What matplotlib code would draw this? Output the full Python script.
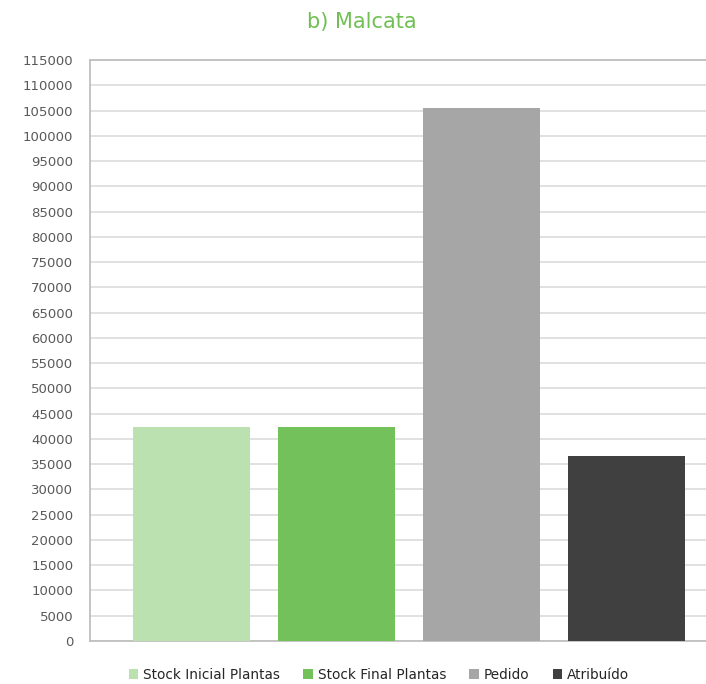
import numpy as np
import matplotlib
matplotlib.use("Agg")
import matplotlib.pyplot as plt
from matplotlib.patches import Patch

# Malcata nursery: stock vs. requested vs. allocated plants
series = ["Stock Inicial Plantas", "Stock Final Plantas", "Pedido", "Atribuído"]
values = [42300, 42300, 105500, 36600]
colors = ["#BCE1B0", "#72C15A", "#A6A6A6", "#404040"]

yticks = list(range(0, 115001, 5000))

plt.rcParams['font.family'] = ['DejaVu Sans']

fig = plt.figure(figsize=(7.06, 6.84), dpi=100)
ax = fig.add_axes([90 / 706, 43 / 684, 616 / 706, 581 / 684])

x = np.arange(len(series))
ax.bar(x, values, width=0.807, color=colors, zorder=3)

ax.set_xlim(-0.7, 3.548)
ax.set_ylim(0, 115000)
ax.set_yticks(yticks)
ax.set_yticklabels([str(t) for t in yticks], fontsize=9.5, color="#595959")
ax.set_xticks([])
ax.tick_params(axis="y", length=0, pad=12)
ax.yaxis.grid(True, color="#D9D9D9", linewidth=1.1, zorder=0)

for side in ["left", "bottom", "top"]:
    ax.spines[side].set_color("#BFBFBF")
    ax.spines[side].set_linewidth(1.3)
ax.spines["right"].set_visible(False)

fig.text(361.7 / 706, 1 - 28 / 684, "b) Malcata", ha="center", va="baseline",
         fontsize=15, color="#70BF54")

handles = [Patch(facecolor=c, edgecolor="none") for c in colors]
fig.legend(handles, series, loc="center", bbox_to_anchor=(379 / 706, 1 - 675 / 684),
           ncol=4, frameon=False, fontsize=9.8, handlelength=0.7, handleheight=0.7,
           handletextpad=0.37, columnspacing=1.7, labelcolor="#262626")

fig.savefig("out.png", dpi=100)
